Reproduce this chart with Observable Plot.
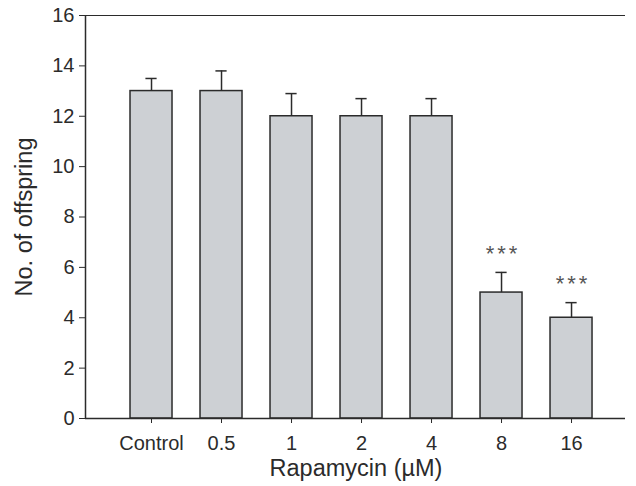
<!DOCTYPE html>
<html>
<head>
<meta charset="utf-8">
<script src="https://cdn.jsdelivr.net/npm/d3@7"></script>
<script src="https://cdn.jsdelivr.net/npm/@observablehq/plot@0.6"></script>
<style>
  html, body { margin: 0; padding: 0; background: #fff; }
  #chart { width: 636px; height: 486px; }
  svg { font-family: "Liberation Sans", Arial, Helvetica, sans-serif; }
  .sig text { letter-spacing: 3px; }
</style>
</head>
<body>
<div id="chart"></div>
<script>
const categories = ["Control", "0.5", "1", "2", "4", "8", "16"];
const means = [13, 13, 12, 12, 12, 5, 4];
const errTops = [13.5, 13.8, 12.9, 12.7, 12.7, 5.8, 4.6];
const significance = ["", "", "", "", "", "***", "***"];
const yTicks = [0, 2, 4, 6, 8, 10, 12, 14, 16];

const data = categories.map((c, i) => ({
  cat: c, idx: i + 1, mean: means[i], err: errTops[i], sig: significance[i]
}));
const sigData = data.filter(d => d.sig);

const ink = "#2b2b2b";
const half = 0.3;
const cap = 0.08;

const chart = Plot.plot({
  width: 636,
  height: 486,
  marginLeft: 85,
  marginRight: 11,
  marginTop: 15,
  marginBottom: 68,
  style: { fontFamily: "Liberation Sans, Arial, sans-serif", color: ink, background: "#fff" },
  x: {
    type: "linear",
    domain: [0.057, 7.771],
    label: null
  },
  y: {
    domain: [0, 16],
    label: null
  },
  marks: [
    Plot.rectY(data, { x1: d => d.idx - half, x2: d => d.idx + half, y1: 0, y2: "mean", fill: "#cdd0d4", stroke: ink, strokeWidth: 1.5 }),
    Plot.ruleX(data, { x: "idx", y1: "mean", y2: "err", stroke: ink, strokeWidth: 1.5 }),
    Plot.ruleY(data, { y: "err", x1: d => d.idx - cap, x2: d => d.idx + cap, stroke: ink, strokeWidth: 1.5 }),
    Plot.text(sigData, { x: "idx", y: d => d.err + 0.75, text: "sig", fontSize: 22, fill: "#555", dx: 1.5, className: "sig" }),
    Plot.ruleY([0], { stroke: ink, strokeWidth: 1.5 }),
    Plot.ruleY([16], { stroke: ink, strokeWidth: 1.2 }),
    Plot.ruleX([0.057], { stroke: ink, strokeWidth: 1.5 }),
    Plot.axisX({ ticks: data.map(d => d.idx), tickFormat: i => categories[i - 1], tickSize: 5, tickPadding: 12, fontSize: 20, stroke: ink, fill: ink, label: null }),
    Plot.axisY({ ticks: yTicks, tickSize: 6, tickPadding: 5, fontSize: 20, stroke: ink, fill: ink, label: null })
  ]
});

const svg = d3.select(chart);
svg.selectAll(".sig text").style("letter-spacing", "3px");
svg.append("text")
  .attr("x", 356).attr("y", 476)
  .attr("text-anchor", "middle")
  .attr("font-size", 23.5).attr("fill", ink)
  .text("Rapamycin (µM)");
svg.append("text")
  .attr("transform", "translate(24,217) rotate(-90)")
  .attr("text-anchor", "middle")
  .attr("dy", "0.35em")
  .attr("font-size", 23.5).attr("fill", ink)
  .text("No. of offspring");

document.getElementById("chart").appendChild(chart);
</script>
</body>
</html>
